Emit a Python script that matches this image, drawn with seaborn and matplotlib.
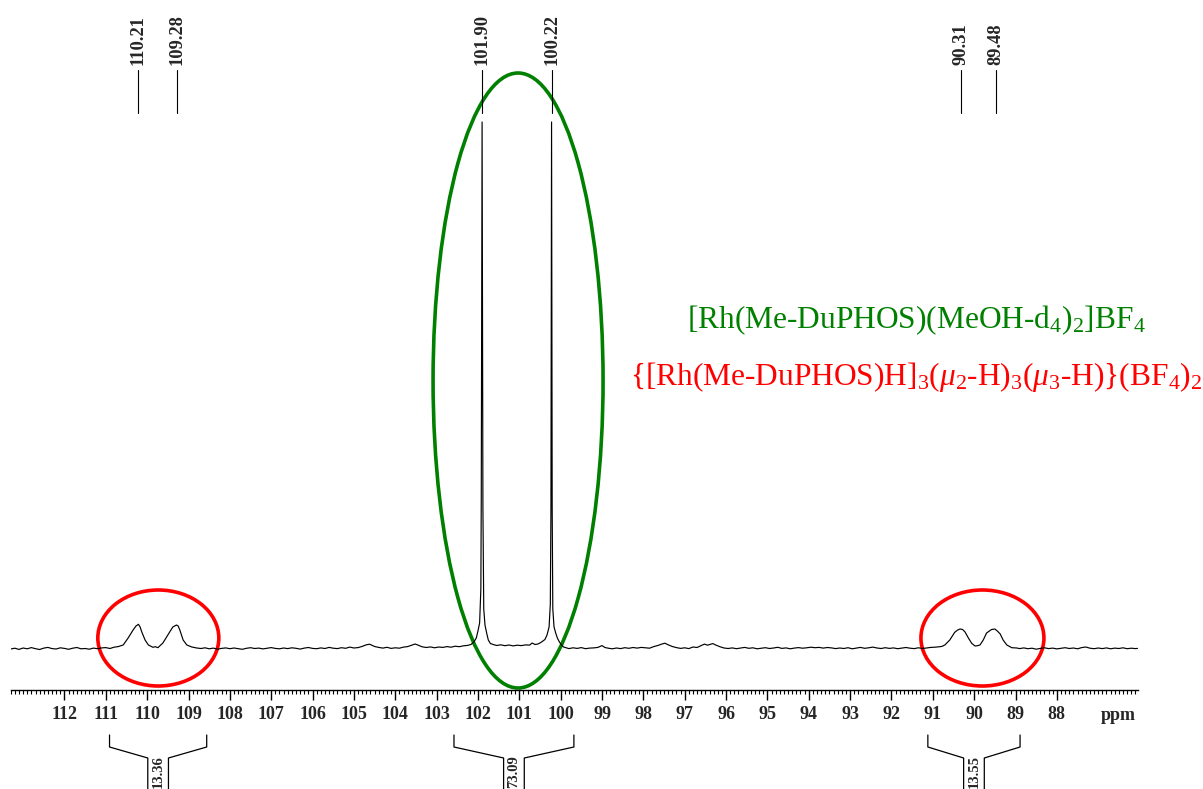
import matplotlib
matplotlib.use("Agg")
import matplotlib.pyplot as plt
from matplotlib.patches import Ellipse
from matplotlib.ticker import MultipleLocator
import pandas as pd
import seaborn as sns

# ---------------- data ----------------
trace_ppm = [
    113.3, 113.2, 113.1, 113.0, 112.9, 112.8, 112.7, 112.6, 112.5, 112.4, 112.3, 112.2, 112.1, 112.0,
    111.9, 111.8, 111.7, 111.6, 111.5, 111.4, 111.3, 111.2, 111.1, 111.0, 110.9, 110.8, 110.7,
    110.58, 110.46, 110.34, 110.27, 110.21, 110.17, 110.13, 110.05, 109.97, 109.86, 109.80, 109.74,
    109.62, 109.50, 109.38, 109.29, 109.25, 109.21, 109.13, 109.04, 108.92, 108.80,
    108.7, 108.6, 108.5, 108.4, 108.3, 108.2, 108.1, 108.0, 107.9, 107.8, 107.7, 107.6, 107.5, 107.4,
    107.3, 107.2, 107.1, 107.0, 106.9, 106.8, 106.7, 106.6, 106.5, 106.4, 106.3, 106.2, 106.1, 106.0,
    105.9, 105.8, 105.7, 105.6, 105.5, 105.4, 105.3, 105.2, 105.1, 105.0, 104.9, 104.8, 104.7, 104.62,
    104.5, 104.4, 104.3, 104.2, 104.1, 104.0, 103.9, 103.8, 103.7, 103.6, 103.52, 103.45, 103.35,
    103.25, 103.15, 103.05, 102.95, 102.85, 102.75, 102.65, 102.55, 102.45, 102.35, 102.25, 102.17,
    102.10, 102.04, 102.00, 101.96, 101.93, 101.92, 101.90, 101.88, 101.86, 101.83, 101.79, 101.75,
    101.70, 101.63,
    101.55, 101.45, 101.35, 101.25, 101.15, 101.05, 100.95, 100.85, 100.75, 100.69, 100.62, 100.55,
    100.48, 100.43, 100.38, 100.33, 100.28, 100.25, 100.235, 100.22, 100.205, 100.19, 100.16, 100.12,
    100.08, 100.03, 99.98, 99.93, 99.85,
    99.8, 99.7, 99.6, 99.5, 99.4, 99.3, 99.2, 99.1, 99.0, 98.93, 98.85, 98.75, 98.65, 98.55, 98.45,
    98.35, 98.25, 98.15, 98.05, 97.95, 97.85, 97.75, 97.65, 97.55, 97.48, 97.40, 97.30, 97.20, 97.10,
    97.00, 96.9, 96.8, 96.7, 96.6, 96.52, 96.45, 96.38, 96.32, 96.25, 96.15, 96.05, 95.95, 95.85,
    95.75, 95.65, 95.55, 95.45, 95.35, 95.25, 95.15, 95.05, 94.95, 94.85, 94.75, 94.65, 94.55, 94.45,
    94.35, 94.25, 94.15, 94.05, 93.95, 93.85, 93.75, 93.65, 93.55, 93.45, 93.35, 93.25, 93.15, 93.05,
    92.95, 92.85, 92.75, 92.65, 92.55, 92.45, 92.35, 92.25, 92.15, 92.05, 91.95, 91.85, 91.75, 91.65,
    91.55, 91.45, 91.35, 91.25, 91.15, 91.05, 90.95, 90.85, 90.78,
    90.71, 90.59, 90.47, 90.40, 90.34, 90.28, 90.22, 90.14, 90.06, 89.98, 89.92, 89.86, 89.78, 89.70,
    89.58, 89.50, 89.44, 89.37, 89.30, 89.21, 89.09, 88.97,
    88.9, 88.8, 88.7, 88.6, 88.5, 88.4, 88.3, 88.2, 88.1, 88.0, 87.9, 87.8, 87.7, 87.6, 87.5, 87.4,
    87.3, 87.2, 87.1, 87.0, 86.9, 86.8, 86.7, 86.6, 86.5, 86.4, 86.3, 86.2, 86.1, 86.05,
]
trace_int = [
    0.0, 0.8, -0.4, 1.0, 0.2, 1.4, 0.3, -0.5, 0.9, 1.6, 0.4, 0.0, 1.2, 0.6,
    -0.3, 0.8, 1.5, 0.2, 0.5, -0.2, 0.9, 0.3, 1.1, 1.4, 0.5, 1.8, 2.4,
    4, 11, 19, 23, 24.7, 22, 17, 9, 4, 1.7, 2.3, 1.3,
    6, 14, 22, 24, 23, 19, 9, 4, 2, 1,
    0.5, 1.2, 0.2, 0.9, -0.2, 0.6, 1.1, 0.3, 1.0, 0.4, -0.3, 0.7, 1.3, 0.5,
    0.9, 0.1, 0.8, 1.4, 0.6, 0.2, 1.0, 0.4, 1.2, 0.7, -0.1, 0.9, 1.5, 0.6,
    0.3, 1.1, 0.5, 1.6, 0.8, 0.4, 1.3, 0.7, 1.9, 1.0, 1.4, 2.6, 4.2, 4.8,
    2.5, 1.6, 0.9, 1.7, 0.6, 1.2, 0.8, 1.9, 2.4, 3.8, 5.0, 3.9, 2.2,
    1.5, 2.1, 1.2, 2.0, 1.6, 2.4, 1.8, 2.8, 2.3, 3.2, 3.6, 4.5,
    7, 11, 18, 26, 60, 150, 527, 140, 40, 24, 16, 9,
    5.5, 4.5,
    3.5, 4.2, 3.3, 4.0, 3.1, 3.8, 3.4, 4.1, 3.9, 6.0, 4.5, 5.0,
    6.5, 8.0, 9.5, 14, 22, 45, 140, 527, 140, 40, 22, 16,
    11, 7, 4, 2, 1.0,
    0.4, 1.2, 0.6, 1.4, 0.3, 0.9, 1.1, 1.6, 3.4, 1.5, 0.8, 0.2, 1.0, 0.4, 1.3,
    0.7, 1.5, 0.9, 1.6, 1.2, 0.8, 2.4, 3.5, 5.0, 5.8, 4.2, 2.5, 1.4, 0.6,
    1.2, 0.4, 2.0, 1.5, 3.5, 4.9, 3.8, 4.6, 5.4, 4.0, 2.3, 1.0, 0.5, 1.1,
    0.3, 0.9, 1.6, 0.7, 1.2, 0.2, 0.8, 1.3, 0.5, 1.0, 1.7, 0.6, 1.1, 0.2,
    0.9, 1.4, 0.8, 1.2, 1.8, 1.3, 1.6, 0.9, 1.5, 1.1, 0.4, 1.0, 0.5, 1.3,
    0.2, 0.9, 1.6, 0.7, 1.2, 1.9, 1.0, 0.5, 1.3, 0.6, 1.1, 0.3, 0.9, 1.5,
    0.8, 0.4, 1.2, 0.6, 1.0, 1.6, 1.8, 2.2, 2.6,
    4, 9, 16.7, 19, 20, 19.5, 17, 11, 5.7, 3, 3.3, 4, 9, 16,
    19.5, 20, 18, 15, 9, 4, 1.3, 1.0,
    0.4, 1.1, 0.3, 0.8, -0.2, 0.6, 1.2, 0.4, 0.9, 0.1, 0.7, 1.3, 0.5, 1.0, 0.2, 1.4,
    2.0, 0.8, 0.3, 1.0, 0.4, 1.1, 0.2, 0.9, 0.5, 1.2, 0.3, 0.8, 0.4, 0.6,
]
peak_ppm = [110.21, 109.28, 101.90, 100.22, 90.31, 89.48]
peak_labels = ["110.21", "109.28", "101.90", "100.22", "90.31", "89.48"]
integral_start = [110.91, 102.58, 91.12]
integral_end = [108.56, 99.68, 88.89]
integral_values = ["13.36", "73.09", "13.55"]
tick_ppm = list(range(88, 113))
tick_labels = [str(t) for t in tick_ppm]
compound_green = r"[Rh(Me-DuPHOS)(MeOH-d$_4$)$_2$]BF$_4$"
compound_red = r"{[Rh(Me-DuPHOS)H]$_3$($\mu_2$-H)$_3$($\mu_3$-H)}(BF$_4$)$_2$"

# ---------------- style ----------------
sns.set_theme(style="white")
plt.rcParams["font.family"] = ["Liberation Serif", "DejaVu Serif"]
plt.rcParams["mathtext.fontset"] = "custom"
plt.rcParams["mathtext.rm"] = "Liberation Serif"
plt.rcParams["mathtext.it"] = "Liberation Serif:italic"
plt.rcParams["mathtext.bf"] = "Liberation Serif:bold"

W, H = 1203, 789
fig = plt.figure(figsize=(W / 100, H / 100), dpi=100)
axis_y = 690          # pixel row of the ppm axis
base_y = 649          # pixel row of the baseline
ymin = base_y - axis_y
ymax = base_y
ax = fig.add_axes([10.7 / W, (H - axis_y) / H, 1126.8 / W, axis_y / H])

df = pd.DataFrame({"ppm": trace_ppm, "intensity": trace_int})
sns.lineplot(data=df, x="ppm", y="intensity", sort=False, estimator=None,
             color="black", linewidth=0.85, ax=ax)

ax.set_xlim(113.3, 86.05)
ax.set_ylim(ymin, ymax)
ax.set_xlabel("")
ax.set_ylabel("")
ax.set_yticks([])
for s in ["left", "right", "top"]:
    ax.spines[s].set_visible(False)
ax.spines["bottom"].set_color("black")
ax.spines["bottom"].set_linewidth(1.0)

ax.set_xticks(tick_ppm)
ax.set_xticklabels(tick_labels, fontsize=13, fontweight="bold")
ax.xaxis.set_minor_locator(MultipleLocator(0.1))
ax.tick_params(axis="x", which="major", direction="out", length=7.5, width=1.0,
               color="black", pad=4, bottom=True)
ax.tick_params(axis="x", which="minor", direction="out", length=3, width=0.8,
               color="black", bottom=True)
ax.text(86.52, base_y - 716, "ppm", fontsize=13, fontweight="bold",
        ha="center", va="center", clip_on=False)

def yd(px):
    return base_y - px

# peak labels
for p, lab in zip(peak_ppm, peak_labels):
    ax.plot([p, p], [yd(70), yd(113)], color="black", linewidth=0.8)
    ax.text(p, yd(65), lab, rotation=90, ha="center", va="bottom",
            fontsize=13.3, fontweight="bold")

# integral brackets
for a, b, v in zip(integral_start, integral_end, integral_values):
    c = (a + b) / 2
    g = 0.25
    ax.plot([a, a, c + g, c + g], [yd(735), yd(747), yd(758), yd(800)],
            color="black", linewidth=0.9, clip_on=False)
    ax.plot([b, b, c - g, c - g], [yd(735), yd(747), yd(758), yd(800)],
            color="black", linewidth=0.9, clip_on=False)
    ax.text(c, yd(788), v, rotation=90, ha="center", va="bottom",
            fontsize=10.5, fontweight="bold", clip_on=False)

# highlight ellipses
ax.add_patch(Ellipse((101.03, yd(380.5)), 170 / 41.35, 615, fill=False,
                     edgecolor="#008000", linewidth=2.6, clip_on=False))
ax.add_patch(Ellipse((109.73, yd(638)), 121 / 41.35, 96, fill=False,
                     edgecolor="#ff0000", linewidth=2.6, clip_on=False))
ax.add_patch(Ellipse((89.80, yd(638)), 123 / 41.35, 96, fill=False,
                     edgecolor="#ff0000", linewidth=2.6, clip_on=False))

# compound names
ax.text(91.41, yd(320), compound_green, color="#008000", fontsize=22.6,
        ha="center", va="center")
ax.text(91.41, yd(377), compound_red, color="#ff0000", fontsize=22.6,
        ha="center", va="center", clip_on=False)

fig.savefig("out.png", dpi=100)
